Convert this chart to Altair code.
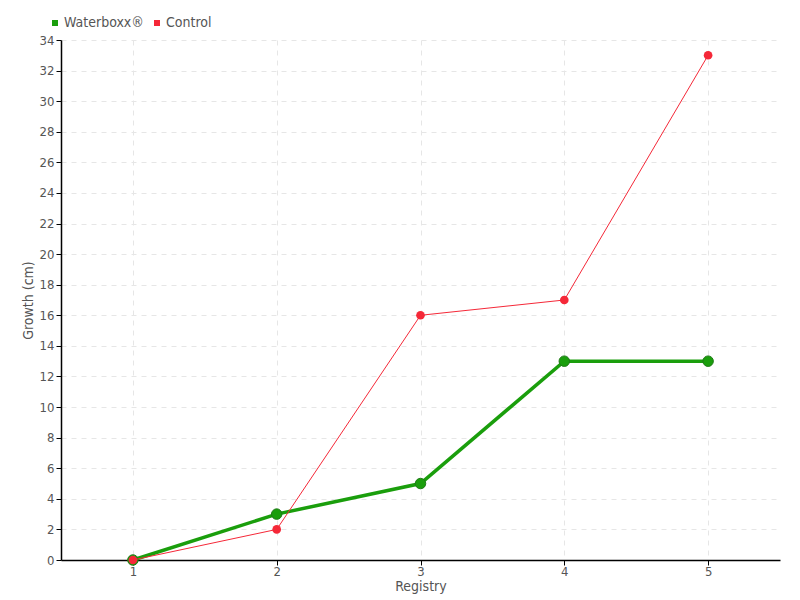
import altair as alt
import pandas as pd

registry = [1, 2, 3, 4, 5]
waterboxx = [0, 3, 5, 13, 13]
control = [0, 2, 16, 17, 33]
series_names = ["Waterboxx®", "Control"]
y_ticks = list(range(0, 35, 2))

df_w = pd.DataFrame({"Registry": registry, "Growth": waterboxx, "Series": series_names[0]})
df_c = pd.DataFrame({"Registry": registry, "Growth": control, "Series": series_names[1]})

FONT = "DejaVu Sans Condensed, sans-serif"
GREEN = "#1a9e0c"
RED = "#f52838"

color = alt.Color(
    "Series:N",
    scale=alt.Scale(domain=series_names, range=[GREEN, RED]),
    legend=alt.Legend(
        title=None, orient="none", direction="horizontal", legendX=-13, legendY=-24,
        symbolType="square", symbolSize=36, symbolStrokeWidth=0,
        labelFontSize=14, labelColor="#555555", labelFont=FONT, columnPadding=6,
        symbolOffset=0, labelOffset=2,
    ),
)

x = alt.X("Registry:Q", scale=alt.Scale(domain=[0.5, 5.5], nice=False, zero=False),
          axis=alt.Axis(values=registry, title="Registry", format="d"))
y = alt.Y("Growth:Q", scale=alt.Scale(domain=[0, 34], nice=False),
          axis=alt.Axis(values=y_ticks, title="Growth (cm)"))

g_line = alt.Chart(df_w).mark_line(strokeWidth=3.5, color=GREEN).encode(x=x, y=y, color=color)
g_pts = alt.Chart(df_w).mark_point(filled=True, size=110, opacity=1, stroke="#1f7a17", strokeWidth=1).encode(x=x, y=y, color=color)
r_line = alt.Chart(df_c).mark_line(strokeWidth=1, color=RED).encode(x=x, y=y, color=color)
r_pts = alt.Chart(df_c).mark_point(filled=True, size=75, opacity=1).encode(x=x, y=y, color=color)

chart = alt.layer(g_line, g_pts, r_line, r_pts).properties(
    width=719, height=520,
    autosize=alt.AutoSizeParams(type="none"),
    padding={"left": 53, "top": 32, "right": 12, "bottom": 40},
).configure_view(stroke=None).configure_axis(
    labelFont=FONT, titleFont=FONT, labelFontSize=13, titleFontSize=14,
    labelColor="#555555", titleColor="#555555", titleFontWeight="normal",
    domainColor="#000000", domainWidth=1.5, tickColor="#000000", tickSize=5,
    grid=True, gridColor="#e6e6e6", gridDash=[5, 5], gridWidth=1,
).configure_axisX(titlePadding=1, labelPadding=0).configure_axisY(titlePadding=4, labelPadding=2)

chart.save("out.html", embed_options={"renderer": "svg", "actions": False})
